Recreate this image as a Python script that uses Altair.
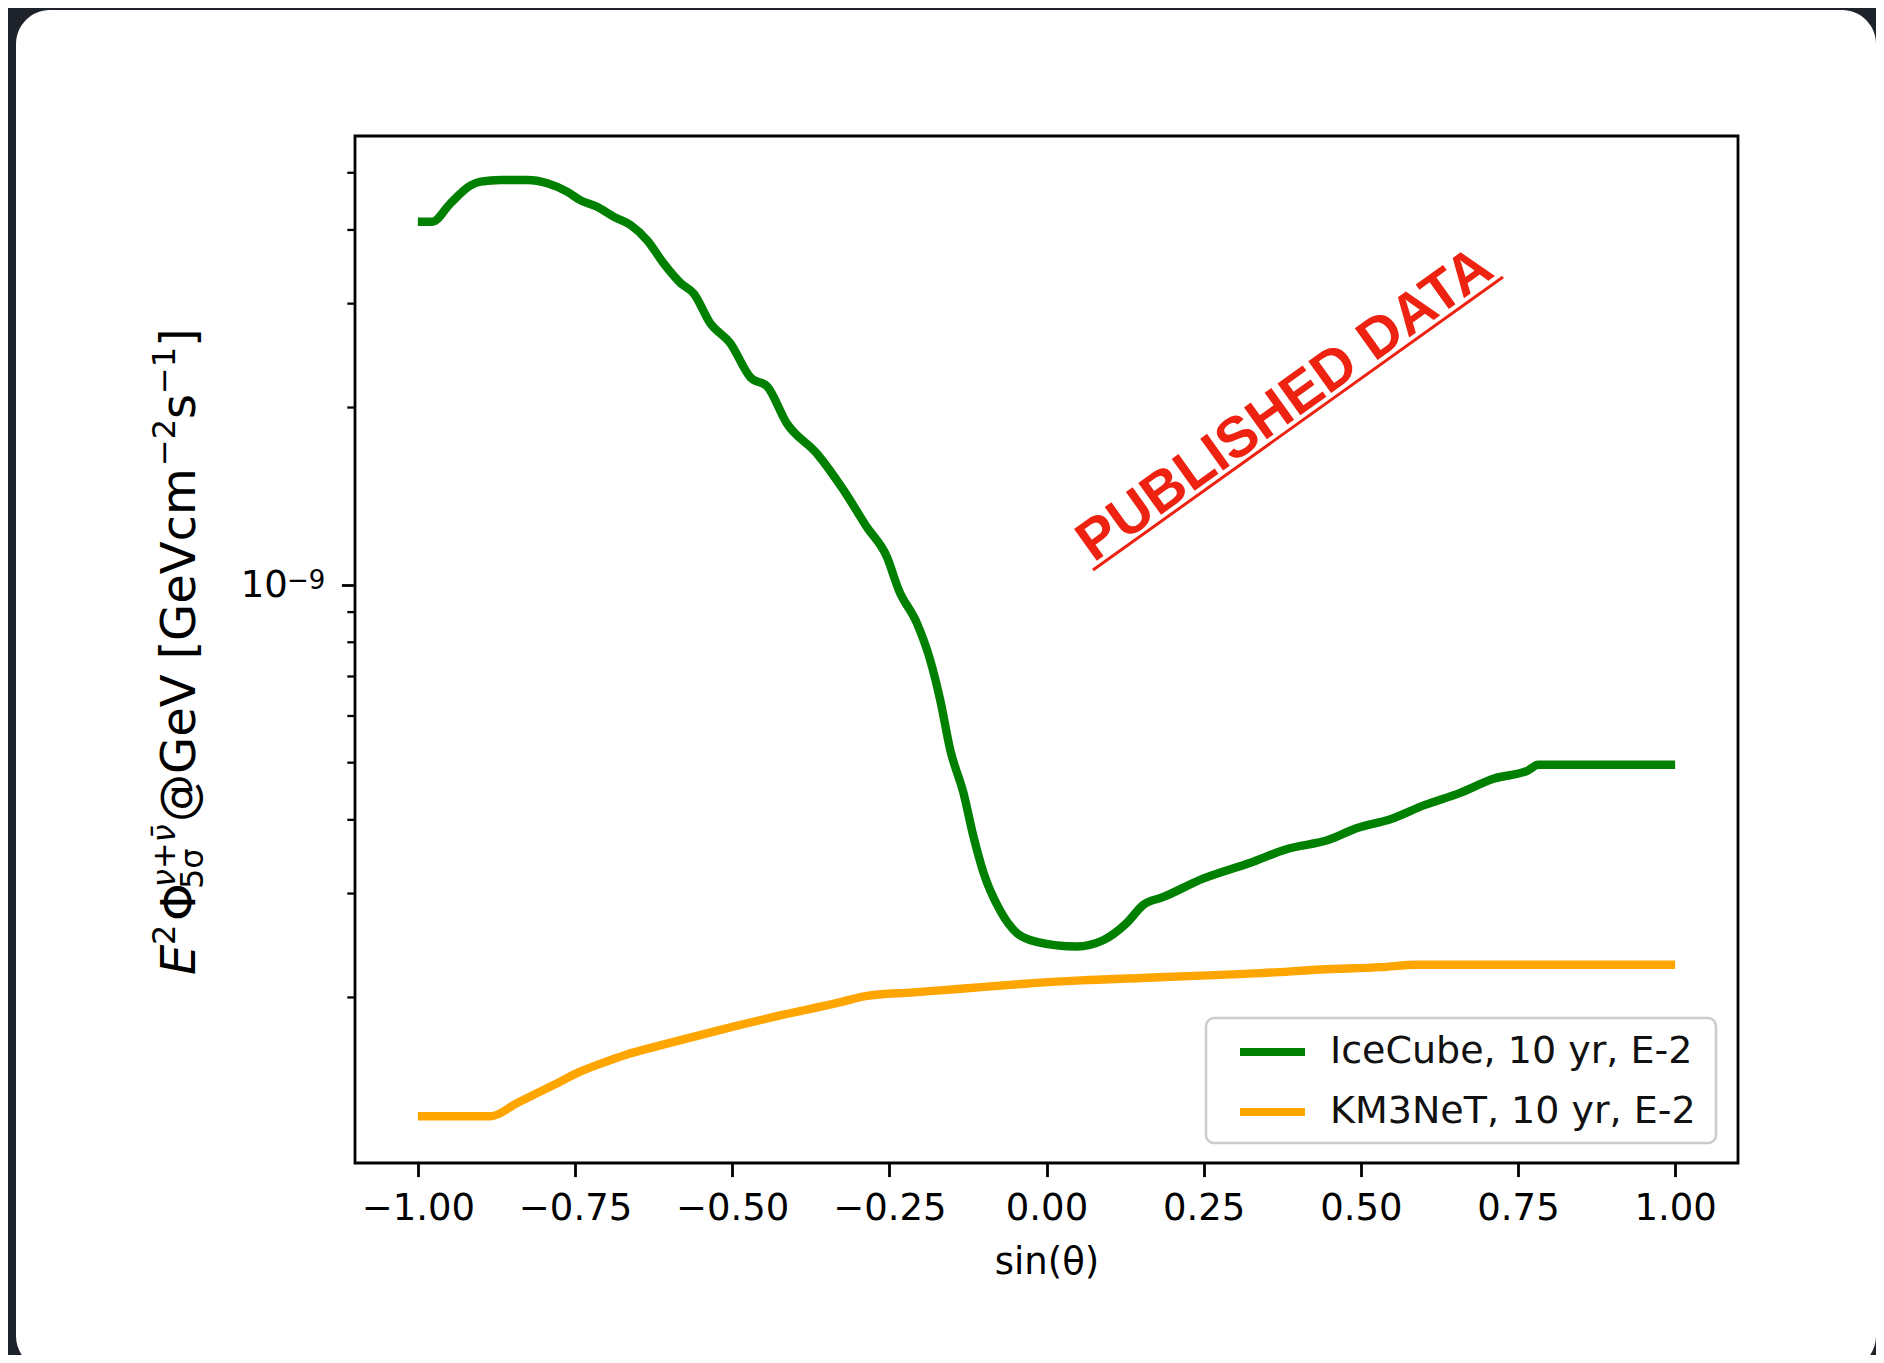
import altair as alt
import pandas as pd

# ---------------- data ----------------
series_names = ["IceCube, 10 yr, E-2", "KM3NeT, 10 yr, E-2"]
series_colors = ["#008000", "#ffa500"]

green_x = [-1.000, -0.977, -0.948, -0.916, -0.900, -0.868, -0.826, -0.794, -0.762,
           -0.741, -0.715, -0.688, -0.662, -0.635, -0.609, -0.582, -0.561, -0.535,
           -0.503, -0.471, -0.444, -0.413, -0.365, -0.323, -0.286, -0.254, -0.235,
           -0.206, -0.185, -0.169, -0.153, -0.132, -0.116, -0.100, -0.074, -0.047,
           -0.016, 0.048, 0.090, 0.127, 0.154, 0.186, 0.249, 0.323, 0.383, 0.449,
           0.493, 0.547, 0.602, 0.657, 0.712, 0.766, 0.782, 1.000]
green_y = [4.13e-9, 4.13e-9, 4.44e-9, 4.76e-9, 4.83e-9, 4.86e-9, 4.86e-9, 4.80e-9, 4.64e-9,
           4.49e-9, 4.38e-9, 4.21e-9, 4.08e-9, 3.84e-9, 3.51e-9, 3.25e-9, 3.12e-9, 2.78e-9,
           2.57e-9, 2.25e-9, 2.17e-9, 1.88e-9, 1.67e-9, 1.45e-9, 1.255e-9, 1.117e-9, 9.81e-10,
           8.61e-10, 7.46e-10, 6.38e-10, 5.25e-10, 4.44e-10, 3.74e-10, 3.25e-10, 2.81e-10, 2.57e-10,
           2.485e-10, 2.44e-10, 2.50e-10, 2.67e-10, 2.87e-10, 2.96e-10, 3.18e-10, 3.38e-10, 3.57e-10,
           3.70e-10, 3.87e-10, 4.01e-10, 4.24e-10, 4.44e-10, 4.70e-10, 4.85e-10, 4.96e-10, 4.96e-10]

orange_x = [-1.000, -0.884, -0.842, -0.784, -0.746, -0.708, -0.670, -0.613, -0.517,
            -0.422, -0.326, -0.288, -0.212, -0.136, -0.040, 0.055, 0.151, 0.246,
            0.342, 0.437, 0.532, 0.590, 1.000]
orange_y = [1.258e-10, 1.258e-10, 1.325e-10, 1.421e-10, 1.490e-10, 1.546e-10, 1.598e-10,
            1.660e-10, 1.764e-10, 1.866e-10, 1.965e-10, 2.011e-10, 2.040e-10, 2.069e-10,
            2.108e-10, 2.138e-10, 2.158e-10, 2.178e-10, 2.199e-10, 2.230e-10, 2.251e-10,
            2.272e-10, 2.272e-10]

x_ticks = [-1.0, -0.75, -0.5, -0.25, 0.0, 0.25, 0.5, 0.75, 1.0]
y_major = [1e-9]
y_major_mantissa = "10"
y_major_exponent = "−9"
y_minor = [2e-10, 3e-10, 4e-10, 5e-10, 6e-10, 7e-10, 8e-10, 9e-10,
           2e-9, 3e-9, 4e-9, 5e-9]
x_domain = [-1.1, 1.1]
y_domain = [1.048e-10, 5.772e-9]

# ---------------- layout ----------------
W, H = 1383, 1027
FONT = "DejaVu Sans"
BLACK = "#000000"

rows = []
for name, xs_, ys_ in [(series_names[0], green_x, green_y), (series_names[1], orange_x, orange_y)]:
    for i, (a, b) in enumerate(zip(xs_, ys_)):
        rows.append({"series": name, "x": a, "y": b, "i": i})
df = pd.DataFrame(rows)
one = pd.DataFrame({"a": [0]})

xscale = alt.Scale(domain=x_domain, nice=False, zero=False)
yscale = alt.Scale(type="log", domain=y_domain, nice=False)

y_axis = alt.Axis(values=y_major, labelExpr=f"'{y_major_mantissa}'", title=None,
                  labelFont=FONT, labelFontSize=37, labelColor=BLACK,
                  labelPadding=54, tickSize=13.6, tickWidth=2.8, tickColor=BLACK,
                  labelBaseline="middle", domain=False, grid=False, zindex=2)
x_axis = alt.Axis(values=x_ticks, format=".2f", title="sin(θ)",
                  titleFont=FONT, titleFontSize=37, titleFontWeight="normal",
                  titleColor=BLACK, titleBaseline="alphabetic", titleY=110,
                  labelFont=FONT, labelFontSize=37, labelColor=BLACK,
                  labelPadding=14, tickSize=13.6, tickWidth=2.8, tickColor=BLACK,
                  domain=False, grid=False, labelFlush=False, labelOverlap=False,
                  zindex=2)

card = alt.Chart(one).mark_rect(fill="white", cornerRadius=34).encode(
    x=alt.value(-339), x2=alt.value(1521), y=alt.value(-126), y2=alt.value(1234)
)

lines = alt.Chart(df).mark_line(strokeWidth=8.4, strokeCap="butt", strokeJoin="round",
                                interpolate="monotone").encode(
    x=alt.X("x:Q", scale=xscale, axis=x_axis),
    y=alt.Y("y:Q", scale=yscale, axis=y_axis),
    color=alt.Color("series:N", scale=alt.Scale(domain=series_names, range=series_colors),
                    legend=None),
    order=alt.Order("i:Q"),
)

minor = alt.Chart(pd.DataFrame({"y": y_minor})).mark_rule(color=BLACK, strokeWidth=2.3).encode(
    y=alt.Y("y:Q", scale=yscale, axis=y_axis), x=alt.value(-7.7), x2=alt.value(0)
)

# exponent of the major tick label, placed through the y scale
exponent = alt.Chart(pd.DataFrame({"y": y_major})).mark_text(
    text=y_major_exponent, font=FONT, fontSize=26, color=BLACK,
    align="left", baseline="alphabetic", dy=4
).encode(y=alt.Y("y:Q", scale=yscale, axis=y_axis), x=alt.value(-68))

frame = alt.Chart(one).mark_rect(fill="white", fillOpacity=0, stroke=BLACK, strokeWidth=2.8).encode(
    x=alt.value(0), x2=alt.value(W), y=alt.value(0), y2=alt.value(H)
)

# watermark
stamp = alt.Chart(one).mark_text(
    text="PUBLISHED DATA", font="Liberation Sans", fontWeight="bold", fontSize=57,
    color="#ee2211", angle=324.4, align="center", baseline="alphabetic"
).encode(x=alt.value(940), y=alt.value(283))
underline = alt.Chart(one).mark_rule(color="#ee2211", strokeWidth=3).encode(
    x=alt.value(738), y=alt.value(434), x2=alt.value(1148), y2=alt.value(141)
)

# legend
legend_box = alt.Chart(one).mark_rect(
    fill="white", fillOpacity=0.8, stroke="#cccccc", strokeWidth=2.5, cornerRadius=8
).encode(x=alt.value(851), x2=alt.value(1361), y=alt.value(882), y2=alt.value(1007))
legend_layers = []
for k, (name, col) in enumerate(zip(series_names, series_colors)):
    yy = 916 + 60 * k
    legend_layers.append(
        alt.Chart(one).mark_rule(color=col, strokeWidth=7.8).encode(
            x=alt.value(885), x2=alt.value(950), y=alt.value(yy), y2=alt.value(yy)))
    legend_layers.append(
        alt.Chart(one).mark_text(text=name, font=FONT, fontSize=38, color="#111111",
                                 align="left", baseline="middle").encode(
            x=alt.value(975), y=alt.value(yy)))

# y-axis label, built from pieces (math-text style)
BX, SUPX, SUBX = -160.5, -180, -152
FN, FS = 48, 32
label_pieces = [
    # text, baseline x, start y, size, style
    ("E", BX, 839, FN, "italic"),
    ("2", SUPX, 809, FS, "normal"),
    ("Φ", BX, 785, FN, "normal"),
    ("5σ", SUBX, 753, FS, "normal"),
    ("ν+ν̄", SUPX, 751, FS, "italic"),
    ("@GeV [", BX, 686, FN, "normal"),
    ("GeVcm", BX, 505, FN, "normal"),
    ("−2", SUPX, 330, FS, "normal"),
    ("s", BX, 283, FN, "normal"),
    ("−1", SUPX, 258, FS, "normal"),
    ("]", BX, 211, FN, "normal"),
]
ylabel_layers = []
for txt, px, py, fs, st in label_pieces:
    ylabel_layers.append(
        alt.Chart(one).mark_text(text=txt, font=FONT, fontSize=fs, fontStyle=st, color=BLACK,
                                 angle=270, align="left", baseline="alphabetic").encode(
            x=alt.value(px), y=alt.value(py)))

chart = alt.layer(
    card, lines, stamp, underline, legend_box, *legend_layers, frame, minor, exponent,
    *ylabel_layers
).properties(
    width=W, height=H,
    padding={"left": 347, "top": 128, "right": 138, "bottom": 192},
    autosize=alt.AutoSizeParams(type="none"),
).configure(background="#1e232b").configure_view(stroke=None)

chart.save("out.html", embed_options={"renderer": "svg", "actions": False})
